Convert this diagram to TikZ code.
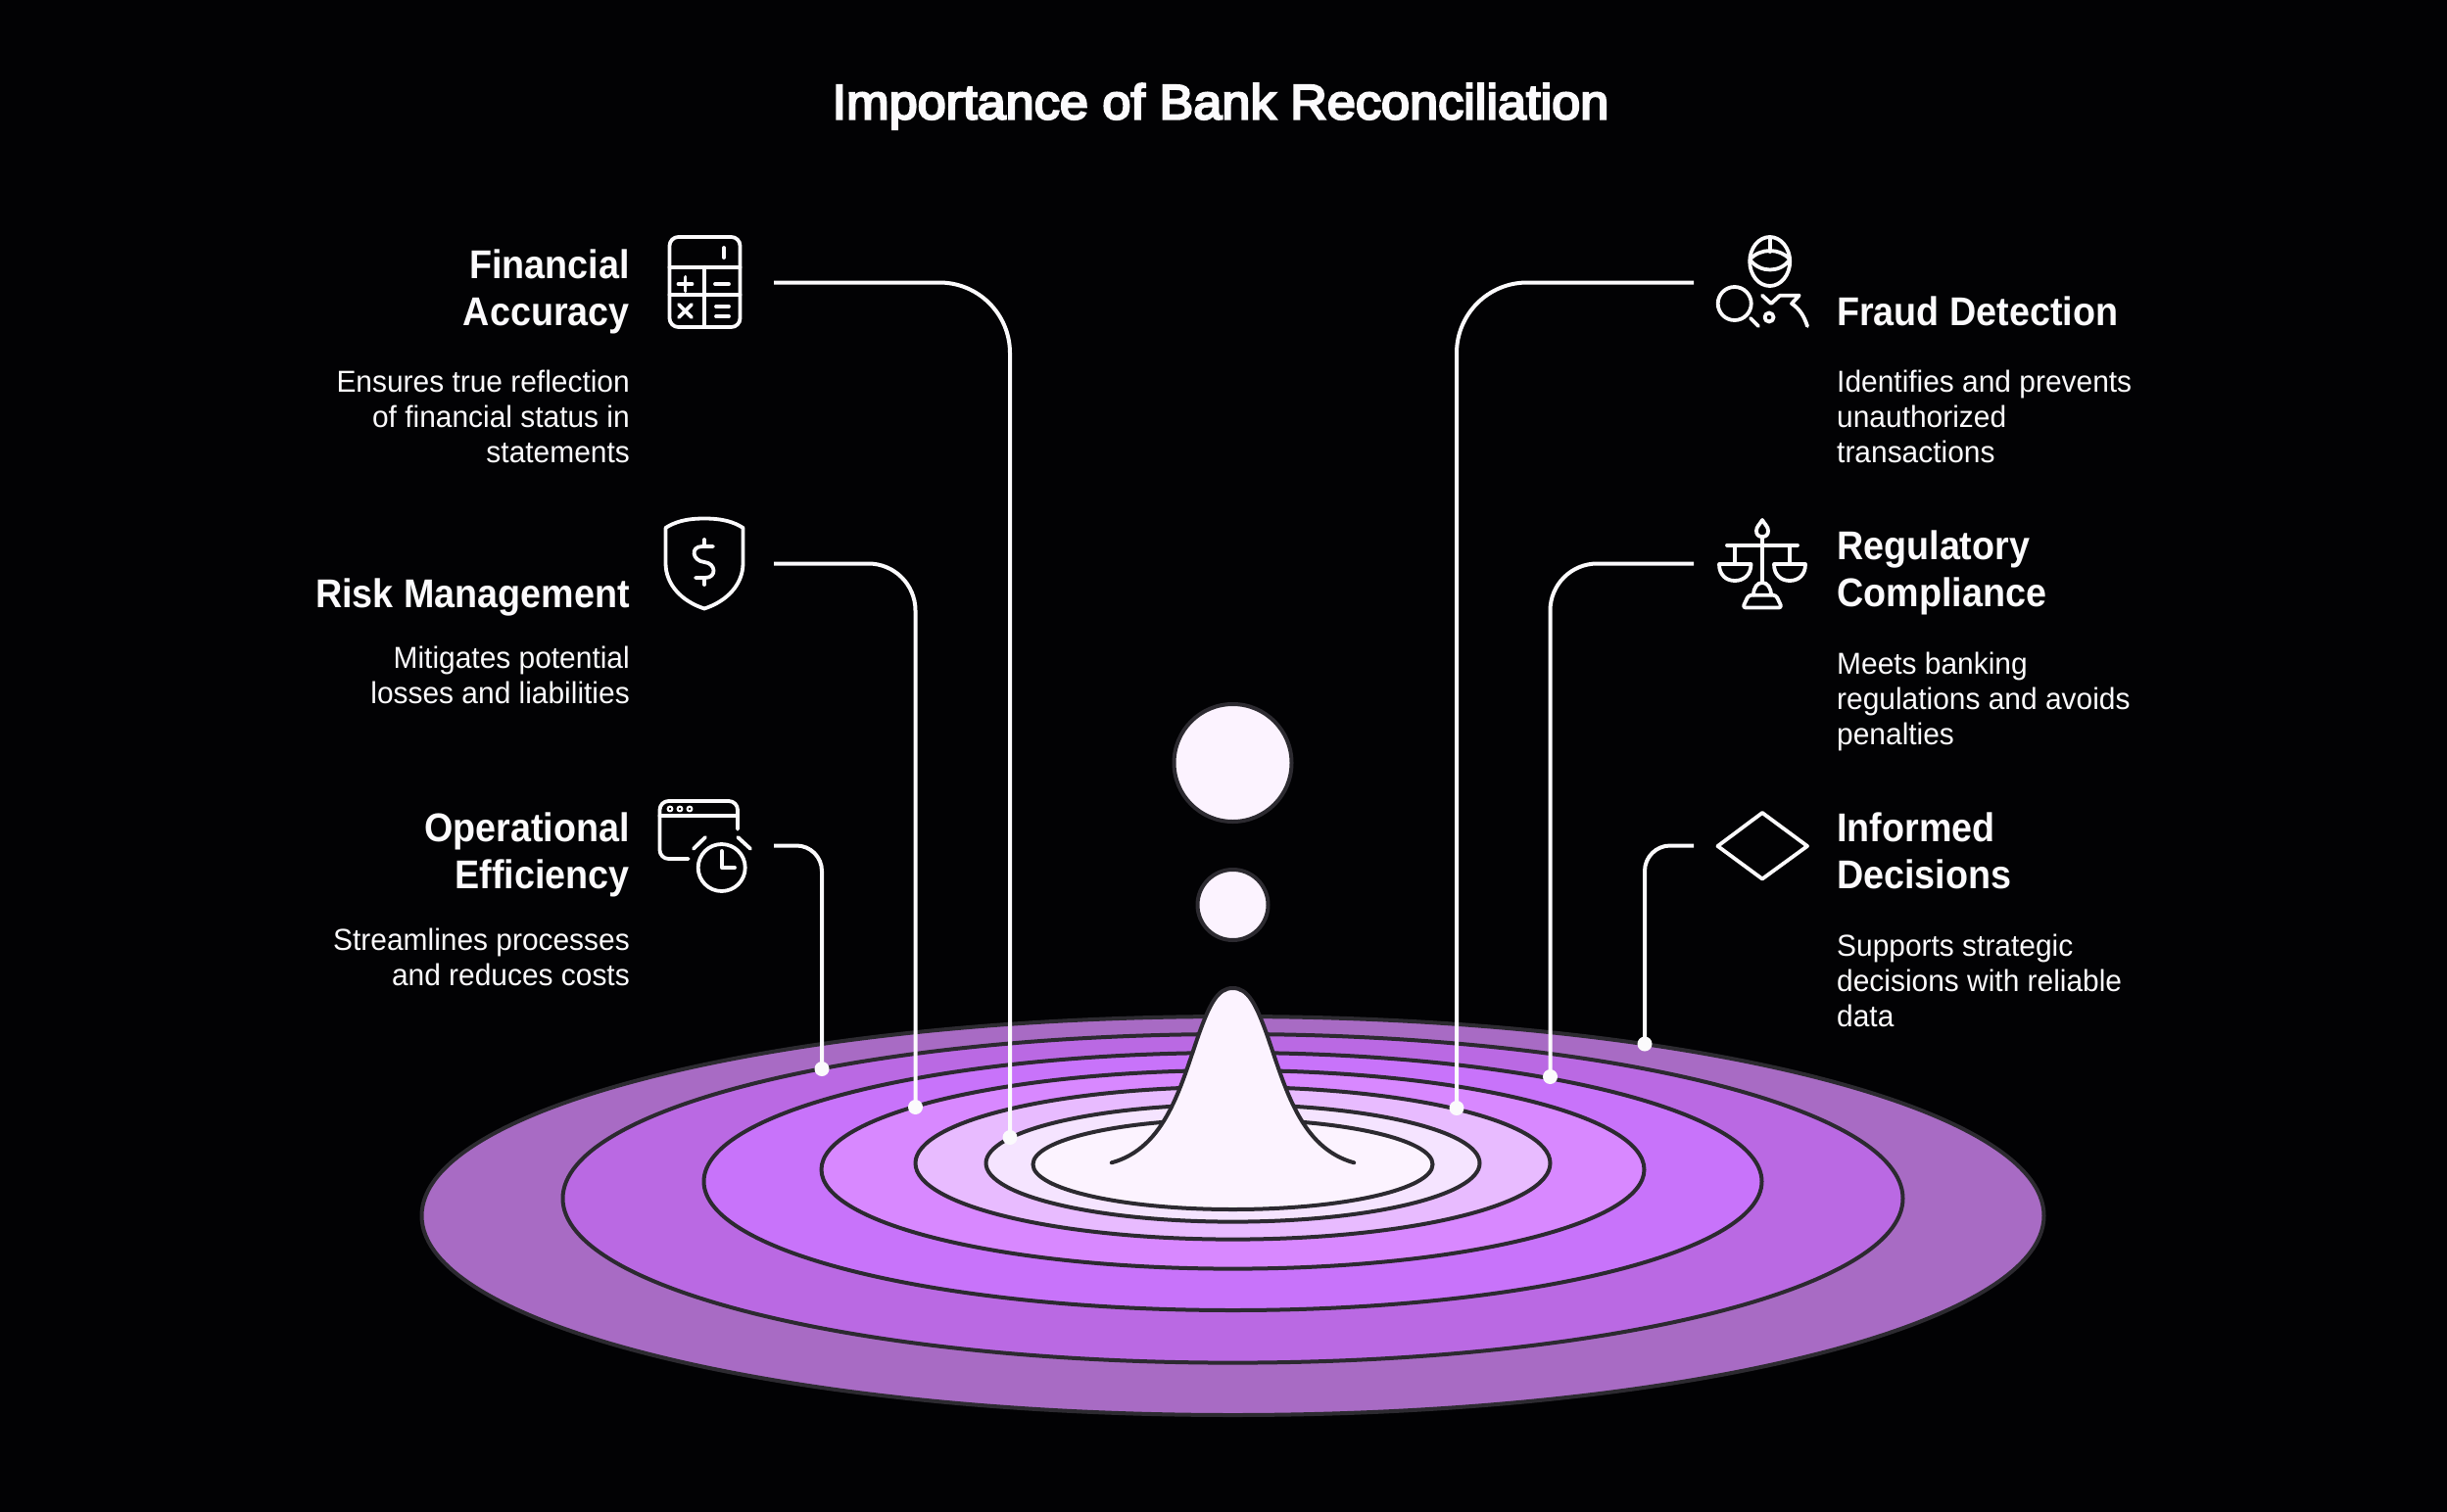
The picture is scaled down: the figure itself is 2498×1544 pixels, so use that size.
\documentclass[tikz,border=0pt]{standalone}
\usepackage{fontspec}
\setmainfont[FakeStretch=0.965]{Liberation Sans}
\newfontfamily\headfont[FakeStretch=0.92]{Liberation Sans}
\newfontfamily\titlefont[FakeBold=4.5,FakeStretch=1.045]{Liberation Sans}
\definecolor{bgc}{HTML}{020204}
\definecolor{ink}{HTML}{2C2A30}
\definecolor{txt}{HTML}{FBFAFC}
\definecolor{ringa}{HTML}{A86BC4}
\definecolor{ringb}{HTML}{BA69E3}
\definecolor{ringc}{HTML}{C873FA}
\definecolor{ringd}{HTML}{D888FF}
\definecolor{ringe}{HTML}{E8BBFF}
\definecolor{ringf}{HTML}{F5E4FF}
\definecolor{ringg}{HTML}{FCF3FF}
\newcommand{\firstlineA}{\rule{0pt}{41pt}}
\newcommand{\firstlineB}{\rule{0pt}{31pt}}
\tikzset{
  ring/.style={draw=ink,line width=4pt},
  blob/.style={circle,draw=ink,line width=4pt,fill=ringg,inner sep=0pt},
  conn/.style={draw=txt,line width=4pt},
  enddot/.style={circle,fill=txt,inner sep=0pt,minimum size=15pt},
  icon/.style={draw=txt,line width=3.8pt,line cap=round,line join=round},
  headl/.style={anchor=north east,align=right,inner sep=0pt,text=txt,font=\headfont\fontsize{41}{48}\selectfont\bfseries},
  headr/.style={anchor=north west,align=left,inner sep=0pt,text=txt,font=\headfont\fontsize{41}{48}\selectfont\bfseries},
  bodyl/.style={anchor=north east,align=right,inner sep=0pt,text=txt,font=\fontsize{31}{36}\selectfont},
  bodyr/.style={anchor=north west,align=left,inner sep=0pt,text=txt,font=\fontsize{31}{36}\selectfont},
}
\begin{document}
\begin{tikzpicture}[x=1pt,y=-1pt]
\useasboundingbox (0,0) rectangle (2498,1544);
\fill[bgc] (0,0) rectangle (2498,1544);
% title
\node[anchor=base,inner sep=0pt,text=txt,font=\titlefont\fontsize{50}{60}\selectfont] (title) at (1246,121.5) {Importance of Bank Reconciliation};
% rings
\path[ring,fill=ringa] (1258.5,1241.5) ellipse [x radius=828,y radius=203.5];
\path[ring,fill=ringb] (1258.5,1223.8) ellipse [x radius=684,y radius=167.8];
\path[ring,fill=ringc] (1258.5,1206.5) ellipse [x radius=540,y radius=131.5];
\path[ring,fill=ringd] (1258.5,1194.3) ellipse [x radius=420,y radius=101.3];
\path[ring,fill=ringe] (1258.5,1187.8) ellipse [x radius=324,y radius=77.8];
\path[ring,fill=ringf] (1258.5,1187.8) ellipse [x radius=252,y radius=59.8];
\path[ring,fill=ringg] (1258.5,1189) ellipse [x radius=204,y radius=46];
% peak and drops
\draw[ink,line width=4pt,line cap=round,fill=ringg] (1134.8,1187.3) .. controls (1190,1172) and (1205,1110) .. (1223.6,1056.7) .. controls (1235,1025) and (1243,1009) .. (1258.5,1009) .. controls (1274,1009) and (1282,1025) .. (1293.4,1056.7) .. controls (1312,1110) and (1327,1172) .. (1382.2,1187.3);
\node[blob,minimum size=120pt] (dropa) at (1258.5,779) {};
\node[blob,minimum size=72pt] (dropb) at (1258.5,924) {};
% connector ends
\coordinate (sa) at (790,288.5);
\coordinate (sb) at (790,575.5);
\coordinate (sc) at (790,863.5);
\coordinate (sd) at (1729,288.5);
\coordinate (se) at (1729,575.5);
\coordinate (sf) at (1729,863.5);
\node[enddot] (ea) at (1031,1161.5) {};
\node[enddot] (eb) at (934.5,1130.5) {};
\node[enddot] (ec) at (839,1091.5) {};
\node[enddot] (ed) at (1487,1131.5) {};
\node[enddot] (ee) at (1582.5,1099.5) {};
\node[enddot] (ef) at (1679,1066) {};
\draw[conn,rounded corners=72pt] (sa) -| (ea.center);
\draw[conn,rounded corners=48pt] (sb) -| (eb.center);
\draw[conn,rounded corners=26pt] (sc) -| (ec.center);
\draw[conn,rounded corners=72pt] (sd) -| (ed.center);
\draw[conn,rounded corners=48pt] (se) -| (ee.center);
\draw[conn,rounded corners=26pt] (sf) -| (ef.center);
% left text
\node[headl] (ha) at (643,243) {\firstlineA Financial\\Accuracy};
\node[bodyl] (ba) at (643,369) {\firstlineB Ensures true reflection\\of financial status in\\statements};
\node[headl] (hb) at (643,579) {\firstlineA Risk Management};
\node[bodyl] (bb) at (643,651) {\firstlineB Mitigates potential\\losses and liabilities};
\node[headl] (hc) at (643,818) {\firstlineA Operational\\Efficiency};
\node[bodyl] (bc) at (643,939) {\firstlineB Streamlines processes\\and reduces costs};
% right text
\node[headr] (hd) at (1875,291) {\firstlineA Fraud Detection};
\node[bodyr] (bd) at (1875,369) {\firstlineB Identifies and prevents\\unauthorized\\transactions};
\node[headr] (he) at (1875,530) {\firstlineA Regulatory\\Compliance};
\node[bodyr] (be) at (1875,657) {\firstlineB Meets banking\\regulations and avoids\\penalties};
\node[headr] (hf) at (1875,818) {\firstlineA Informed\\Decisions};
\node[bodyr] (bf) at (1875,945.5) {\firstlineB Supports strategic\\decisions with reliable\\data};
% calculator icon
\draw[icon,rounded corners=9pt] (683.5,242) rectangle (755.5,334);
\draw[icon] (683.5,272.7) -- (755.5,272.7) (683.5,301) -- (755.5,301) (719.3,272.7) -- (719.3,334);
\draw[icon] (739,253) -- (739,263);
\draw[icon] (692.5,290) -- (706.5,290) (699.5,283) -- (699.5,297);
\draw[icon] (730,290) -- (744,290);
\draw[icon] (693,311) -- (706,324) (706,311) -- (693,324);
\draw[icon] (731,313) -- (744,313) (731,323) -- (744,323);
% shield icon
\draw[icon] (719,529.5) .. controls (738,529.5) and (749,533) .. (758.5,539) -- (758.5,575) .. controls (758.5,597) and (742,614) .. (719,621.5) .. controls (696,614) and (679.5,597) .. (679.5,575) -- (679.5,539) .. controls (689,533) and (700,529.5) .. (719,529.5) -- cycle;
\draw[icon] (728,558) -- (717,558) .. controls (704,558) and (707,573) .. (719,574) .. controls (731,575) and (732,590) .. (720,590) -- (710,590);
\draw[icon] (719,551) -- (719,558) (719,590) -- (719,597);
% clock icon
\draw[icon,rounded corners=9pt] (702.7,877) -- (673.5,877) -- (673.5,818) -- (753,818) -- (753,846.7);
\draw[icon] (673.5,833.3) -- (753,833.3);
\draw[draw=txt,line width=2pt] (684,826) circle (2.4) (694,826) circle (2.4) (704,826) circle (2.4);
\draw[icon] (736.7,886) circle (24);
\draw[icon] (736.7,869) -- (736.7,886) -- (750,886);
\draw[icon] (708,866.7) -- (720,855) (753.3,855) -- (766,866.7);
% fraud icon
\draw[icon] (1806.7,267) ellipse [x radius=20.5,y radius=25];
\draw[icon] (1786.2,265) .. controls (1797,253) and (1817,253) .. (1827.2,265) .. controls (1817,279) and (1797,279) .. (1786.2,265) -- cycle;
\draw[icon] (1806.7,242) -- (1806.7,257);
\draw[icon] (1770.7,310) circle (17);
\draw[icon] (1787,325) -- (1795,333);
\draw[icon] (1799,301.7) -- (1808,310) -- (1817,301.7) -- (1836.7,301.7) -- (1829,310) .. controls (1838,316) and (1842,324) .. (1845,333);
\draw[icon] (1806,324) circle (4.5);
% scales icon
\draw[icon] (1799,531) .. controls (1796,536) and (1793,538) .. (1793,542) .. controls (1793,546) and (1795,548) .. (1799,548) .. controls (1803,548) and (1805,546) .. (1805,542) .. controls (1805,538) and (1802,536) .. (1799,531) -- cycle;
\draw[icon] (1799,548) -- (1799,595);
\draw[icon] (1763,556.7) -- (1835,556.7);
\draw[icon] (1770.7,557) -- (1770.7,576) (1827,557) -- (1827,576);
\draw[icon] (1755,576) -- (1787.5,576) .. controls (1787.5,587) and (1780,593) .. (1771,593) .. controls (1762,593) and (1755,587) .. (1755,576) -- cycle;
\draw[icon] (1811,576) -- (1843,576) .. controls (1843,587) and (1836,593) .. (1827,593) .. controls (1818,593) and (1811,587) .. (1811,576) -- cycle;
\draw[icon] (1790,607.7) .. controls (1790,600) and (1794,595) .. (1799,595) .. controls (1804,595) and (1808,600) .. (1808,607.7);
\draw[icon,rounded corners=3pt] (1785,607.7) -- (1813,607.7) -- (1819,620.5) -- (1779,620.5) -- cycle;
% diamond icon
\draw[icon] (1753.5,864) -- (1799,830) -- (1845,864) -- (1799,897.5) -- cycle;
\end{tikzpicture}
\end{document}
